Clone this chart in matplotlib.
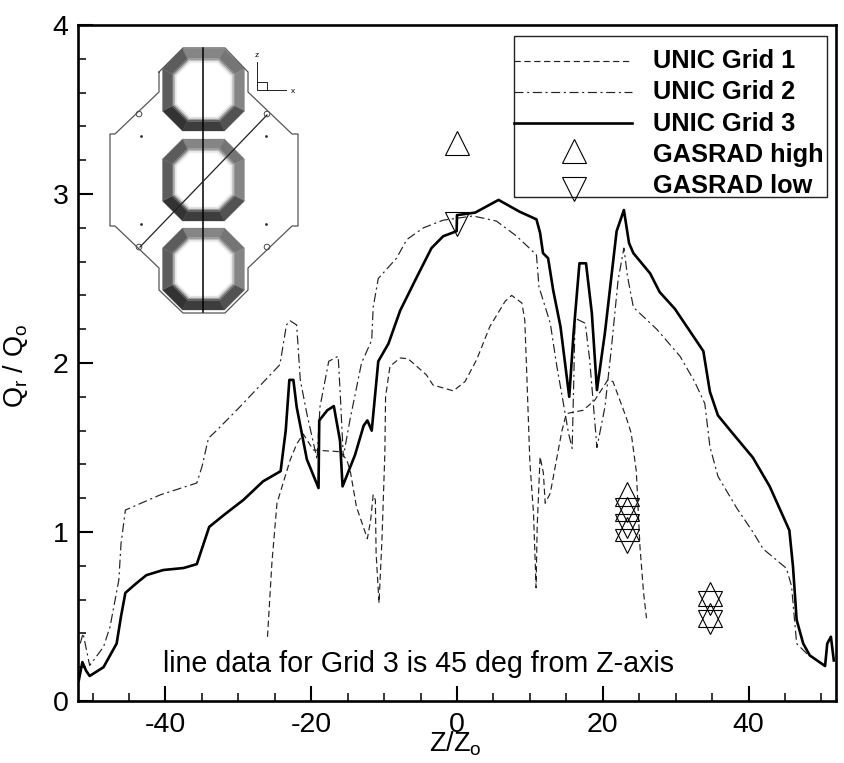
import matplotlib
matplotlib.use("Agg")
import matplotlib.pyplot as plt
from matplotlib.patches import Polygon, Circle, Rectangle
from matplotlib.ticker import MultipleLocator

plt.rcParams['font.family'] = ['Liberation Sans', 'DejaVu Sans']
plt.rcParams['mathtext.default'] = 'regular'
plt.rcParams['lines.scale_dashes'] = False
plt.rcParams['axes.unicode_minus'] = False

# values
grid3_x = [-51.9, -51.4, -50.9, -50.4, -48.5, -46.7, -46.1, -45.5, -43.9, -42.6, -40.3, -37.5, -35.7,
           -34.0, -32.0, -29.3, -26.6, -24.2, -23.5, -23.0, -22.45, -22.0, -20.6, -19.0, -18.9, -17.8,
           -16.9, -16.05, -15.7, -14.0, -12.8, -12.3, -11.7, -10.8, -9.4, -7.8, -5.5, -3.5, -1.9, -0.05,
           0.0, 2.5, 5.7, 8.6, 10.9, 11.4, 11.8, 12.5, 13.2, 14.2, 15.4, 16.0, 16.8, 17.7, 18.5, 19.2,
           20.3, 21.9, 22.9, 23.6, 24.2, 26.5, 27.8, 29.9, 33.8, 34.7, 35.8, 37.7, 40.6, 42.9, 45.6, 46.1,
           46.6, 47.5, 48.4, 50.5, 50.8, 51.3, 51.7]
grid3_y = [0.12, 0.23, 0.18, 0.148, 0.20, 0.34, 0.50, 0.64, 0.70, 0.745, 0.775, 0.787, 0.81,
           1.03, 1.10, 1.19, 1.30, 1.36, 1.60, 1.90, 1.90, 1.74, 1.43, 1.26, 1.66, 1.72,
           1.745, 1.54, 1.27, 1.455, 1.63, 1.66, 1.60, 2.01, 2.115, 2.31, 2.51, 2.68, 2.75, 2.78,
           2.875, 2.89, 2.965, 2.895, 2.85, 2.77, 2.65, 2.62, 2.43, 2.215, 1.80, 2.18, 2.59, 2.59, 2.295, 1.84,
           2.18, 2.78, 2.905, 2.71, 2.65, 2.53, 2.42, 2.32, 2.07, 1.83, 1.69, 1.59, 1.44, 1.27, 1.01, 0.795,
           0.48, 0.34, 0.27, 0.207, 0.34, 0.38, 0.24]

grid2_x = [-51.7, -51.3, -50.4, -48.5, -47.6, -46.4, -46.1, -45.5, -40.7, -35.7, -35.0, -34.1, -33.0,
           -29.8, -24.3, -23.4, -22.9, -22.0, -21.5, -20.6, -19.2, -18.8, -17.6, -16.3, -16.0, -15.6,
           -14.7, -13.1, -11.7, -11.5, -10.8, -8.3, -6.9, -4.6, -1.9, 2.2, 5.4, 8.2, 10.9, 11.25,
           12.8, 13.7, 14.6, 15.3, 15.8, 16.0, 16.2, 17.6, 18.2, 19.2, 20.3, 21.2, 22.1, 22.9, 23.4, 24.2,
           27.4, 30.6, 32.6, 34.0, 34.7, 35.8, 38.4, 40.6, 42.0, 45.2, 45.9, 46.6, 48.0, 50.5]
grid2_y = [0.34, 0.40, 0.21, 0.32, 0.44, 0.715, 0.93, 1.13, 1.22, 1.29, 1.385, 1.555, 1.60,
           1.74, 1.99, 2.225, 2.25, 2.225, 1.90, 1.70, 1.43, 1.74, 2.01, 2.04, 1.80, 1.445,
           1.66, 2.00, 2.135, 2.33, 2.50, 2.62, 2.73, 2.80, 2.845, 2.87, 2.84, 2.75, 2.64, 2.45,
           2.235, 1.98, 1.76, 1.585, 1.495, 1.86, 2.265, 2.235, 2.02, 1.50, 1.74, 2.095, 2.49, 2.68, 2.51, 2.33,
           2.20, 2.04, 1.89, 1.76, 1.505, 1.33, 1.14, 1.00, 0.90, 0.785, 0.68, 0.34, 0.28, 0.207]

grid1_x = [-26.0, -25.4, -24.7, -22.9, -22.0, -21.1, -19.7, -16.0, -15.1, -14.6, -13.8, -12.3, -11.85,
           -11.5, -11.2, -11.1, -10.7, -10.3, -9.9, -9.8, -9.2, -7.8, -6.7, -4.2, -3.3, -0.5, 1.1, 2.7,
           4.5, 6.6, 7.5, 8.9, 9.3, 9.6, 10.0, 10.5, 10.85, 11.0, 11.4, 11.85, 12.1, 12.8, 13.9, 14.4,
           15.0, 16.0, 17.3, 18.9, 20.7, 21.4, 23.2, 23.9, 24.6, 25.1, 25.6, 26.0]
grid1_y = [0.38, 0.815, 1.17, 1.425, 1.52, 1.58, 1.485, 1.475, 1.425, 1.35, 1.15, 0.96, 1.07,
           1.22, 1.19, 0.875, 0.58, 0.95, 1.465, 1.80, 1.98, 2.03, 2.025, 1.93, 1.87, 1.835, 1.89, 2.02,
           2.215, 2.365, 2.40, 2.355, 2.255, 1.90, 1.41, 1.11, 0.67, 1.03, 1.445, 1.35, 1.17, 1.23, 1.485, 1.60,
           1.70, 1.71, 1.72, 1.78, 1.90, 1.89, 1.68, 1.585, 1.36, 0.915, 0.64, 0.49]

gasrad_high_x = [0.0, 23.3, 23.3, 23.3, 34.7, 34.7]
gasrad_high_y = [3.30, 1.225, 1.136, 1.018, 0.633, 0.509]
gasrad_low_x = [0.0, 23.3, 23.3, 23.3, 34.7, 34.7]
gasrad_low_y = [2.82, 1.13, 1.035, 0.947, 0.578, 0.47]

legend_labels = ['UNIC Grid 1', 'UNIC Grid 2', 'UNIC Grid 3', 'GASRAD high', 'GASRAD low']
x_ticks = [-40, -20, 0, 20, 40]
y_ticks = [0, 1, 2, 3, 4]

# schematic in the top left corner, in pixels of the picture
octagon_tops = [49, 139, 228]
side_shades = [0.52, 0.46, 0.52, 0.32, 0.24, 0.20, 0.36, 0.36]
housing_x = [159, 159, 115, 110, 110, 115, 159, 159, 183, 225, 248, 248, 292, 298, 298, 292, 248, 248, 225, 183, 159]
housing_y = [72, 92, 134, 134, 226, 226, 268, 290, 313, 313, 290, 268, 226, 226, 134, 134, 92, 72, 48, 48, 72]
hole_x = [139, 267, 139, 267]
hole_y = [114, 114, 247, 247]
dot_x = [141, 266, 141, 266]
dot_y = [136, 136, 224, 224]

LINE_DASH = (0, (4.5, 2.6))
LINE_DASHDOT = (0, (6.5, 2.6, 1.5, 2.6))
TRI_SIZE = 17.5

fig = plt.figure(figsize=(8.45, 7.63), dpi=100)
ax = fig.add_axes([78 / 845, 1 - 701 / 763, (836 - 78) / 845, (701 - 25) / 763])

ax.plot(grid1_x, grid1_y, color='#222222', lw=0.85, ls=LINE_DASH)
ax.plot(grid2_x, grid2_y, color='#222222', lw=0.85, ls=LINE_DASHDOT)
ax.plot(grid3_x, grid3_y, color='black', lw=1.9)
ax.plot(gasrad_high_x, gasrad_high_y, ls='none', marker='^', ms=TRI_SIZE, mfc='none', mec='black', mew=0.8)
ax.plot(gasrad_low_x, gasrad_low_y, ls='none', marker='v', ms=TRI_SIZE, mfc='none', mec='black', mew=0.8)

ax.set_xlim(-52, 52)
ax.set_ylim(0, 4)
ax.set_xticks(x_ticks)
ax.set_yticks(y_ticks)
ax.xaxis.set_minor_locator(MultipleLocator(5))
ax.yaxis.set_minor_locator(MultipleLocator(0.2))
ax.tick_params(which='major', direction='in', length=11, width=1.5, labelsize=20.5)
ax.tick_params(which='minor', direction='in', length=5.5, width=1.1)
ax.tick_params(axis='y', which='major', pad=7)
ax.tick_params(axis='x', which='major', pad=8)
for side in ax.spines.values():
    side.set_linewidth(1.9)

ax.text(-40.3, 0.17, 'line data for Grid 3 is 45 deg from Z-axis', fontsize=20.6, va='baseline')

fig.text(455 / 845, 1 - 752 / 763, r'Z/Z$_{o}$', fontsize=19.5, ha='center', va='baseline')
fig.text(16 / 845, 1 - 366 / 763, r'Q$_{r}$ / Q$_{o}$', fontsize=19.5, rotation=90, ha='center', va='center')

# overlay in picture pixels for the hand placed legend and schematic
over = fig.add_axes([0, 0, 1, 1], facecolor='none')
over.set_xlim(0, 845)
over.set_ylim(763, 0)
over.axis('off')

over.add_patch(Rectangle((514, 36), 313, 161, fc='white', ec='#222222', lw=1.0))
over.plot([514, 632], [61, 61], color='#222222', lw=0.85, ls=LINE_DASH)
over.plot([514, 632], [92, 92], color='#222222', lw=0.85, ls=LINE_DASHDOT)
over.plot([514, 632], [123, 123], color='black', lw=1.9)
over.plot([574], [151], ls='none', marker='^', ms=TRI_SIZE, mfc='none', mec='black', mew=0.8)
over.plot([574], [189], ls='none', marker='v', ms=TRI_SIZE, mfc='none', mec='black', mew=0.8)
legend_rows = [68, 99, 131, 162, 193]
for label, row in zip(legend_labels, legend_rows):
    over.text(653, row, label, fontsize=18.3, fontweight='bold', va='baseline')


def octagon(cx, cy, half, cut):
    # corners clockwise from the top side, so each side pairs with a shade
    return [(cx - half + cut, cy - half), (cx + half - cut, cy - half),
            (cx + half, cy - half + cut), (cx + half, cy + half - cut),
            (cx + half - cut, cy + half), (cx - half + cut, cy + half),
            (cx - half, cy + half - cut), (cx - half, cy - half + cut)]


def draw_ring(top):
    cx, cy = 203.5, top + 41
    over.add_patch(Polygon(octagon(cx, cy, 41, 20), fc='white', ec='none'))
    steps = [(41, 0.0), (31.5, 0.0), (30, 0.3), (28.5, 0.7), (27, 1.0)]
    for (h0, f0), (h1, f1) in zip(steps[:-1], steps[1:]):
        outer = octagon(cx, cy, h0, 20 * h0 / 41)
        inner = octagon(cx, cy, h1, 20 * h1 / 41)
        mix = (f0 + f1) / 2
        for i, shade in enumerate(side_shades):
            j = (i + 1) % 8
            grey = shade + (1 - shade) * mix
            over.add_patch(Polygon([outer[i], outer[j], inner[j], inner[i]],
                                   fc=(grey, grey, grey), ec=(grey, grey, grey), lw=0.2))


for top in octagon_tops:
    draw_ring(top)

over.plot(housing_x, housing_y, color='#555555', lw=0.9)
for hx, hy in zip(hole_x, hole_y):
    over.add_patch(Circle((hx, hy), 2.8, fc='white', ec='#444444', lw=0.7))
over.plot(dot_x, dot_y, ls='none', marker='.', ms=2, color='#333333')
over.plot([203.5, 203.5], [48, 312], color='black', lw=1.1)
over.plot([140, 267], [247, 115], color='#222222', lw=0.9)

# small z and x axes
over.plot([257, 257, 286], [62, 90, 90], color='#222222', lw=0.7)
over.plot([257, 267, 267], [82, 82, 90], color='#222222', lw=0.7)
over.text(257, 57, 'z', fontsize=6, ha='center', va='baseline')
over.text(293, 93, 'x', fontsize=6, ha='center', va='baseline')

fig.savefig('out.png', dpi=100)
